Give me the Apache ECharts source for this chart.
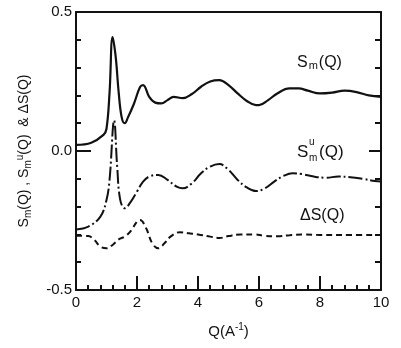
<!DOCTYPE html>
<html><head><meta charset="utf-8">
<script src="https://cdn.jsdelivr.net/npm/echarts@6/dist/echarts.min.js"></script>
<style>html,body{margin:0;padding:0;background:#fff}#c{width:401px;height:348px}</style>
</head><body><div id="c"></div>
<script>
const qSm = [0,0.5,0.9,1.0,1.1,1.2,1.3,1.4,1.5,1.6,1.7,1.9,2.1,2.2,2.4,2.6,2.8,3.0,3.2,3.5,3.8,4.1,4.4,4.7,5.0,5.3,5.6,5.9,6.0,6.3,6.6,7.0,7.3,7.6,8.0,8.4,8.8,9.2,9.6,10];
const sm  = [0.022,0.03,0.058,0.08,0.21,0.41,0.34,0.21,0.12,0.10,0.12,0.17,0.23,0.237,0.195,0.174,0.171,0.183,0.195,0.19,0.205,0.231,0.25,0.255,0.237,0.207,0.18,0.165,0.165,0.183,0.207,0.225,0.225,0.217,0.207,0.21,0.217,0.212,0.2,0.195];
const qSu = [0,0.4,0.8,1.0,1.1,1.25,1.35,1.45,1.6,1.8,2.0,2.2,2.4,2.7,3.0,3.3,3.5,3.8,4.1,4.4,4.7,5.0,5.3,5.6,5.9,6.2,6.5,6.8,7.1,7.4,7.8,8.2,8.6,9.0,9.4,9.8,10];
const su  = [-0.282,-0.272,-0.236,-0.176,-0.104,0.11,-0.056,-0.176,-0.206,-0.182,-0.146,-0.11,-0.092,-0.086,-0.104,-0.128,-0.134,-0.116,-0.08,-0.056,-0.047,-0.068,-0.104,-0.131,-0.144,-0.134,-0.11,-0.09,-0.08,-0.083,-0.092,-0.096,-0.092,-0.094,-0.1,-0.108,-0.11];
const qDs = [0,0.4,0.6,0.8,1.0,1.2,1.4,1.6,1.8,2.0,2.1,2.3,2.5,2.7,2.9,3.1,3.4,3.7,4.0,4.4,4.7,5.0,5.4,5.8,6.2,6.6,7.0,7.5,8.0,9.0,10];
const ds  = [-0.305,-0.306,-0.32,-0.344,-0.35,-0.338,-0.318,-0.308,-0.287,-0.254,-0.248,-0.278,-0.332,-0.35,-0.332,-0.308,-0.292,-0.296,-0.3,-0.308,-0.313,-0.306,-0.3,-0.3,-0.305,-0.307,-0.303,-0.3,-0.302,-0.302,-0.302];
const xTicks = [0,2,4,6,8,10];
const yTicks = [-0.5,0.0,0.5];

const zip = (a,b)=>a.map((v,i)=>[v,b[i]]);
const chart = echarts.init(document.getElementById('c'));
const F = 'Liberation Sans, Arial, sans-serif';
const lineC = '#111';
chart.setOption({
  animation:false,
  grid:{left:76,right:20,top:12,bottom:58},
  xAxis:[{
    type:'value',min:0,max:10,interval:2,
    axisLine:{onZero:false,lineStyle:{color:lineC,width:2}},
    axisTick:{inside:true,length:14,lineStyle:{color:lineC,width:2}},
    minorTick:{show:true,splitNumber:5,length:5,lineStyle:{color:lineC,width:2}},
    splitLine:{show:false},
    axisLabel:{color:'#111',fontSize:15,fontFamily:F,margin:5,formatter:v=>String(v)},
    name:'{a|Q(A}{sup|-1}{a|)}',nameLocation:'middle',nameGap:32,
    nameTextStyle:{rich:{a:{fontSize:15,fontFamily:F,color:'#111'},sup:{fontSize:10,fontFamily:F,color:'#111',padding:[0,0,9,0]}}}
  },{
    type:'value',min:0,max:10,position:'top',
    axisLine:{show:true,onZero:false,lineStyle:{color:lineC,width:2}},
    axisTick:{show:false},axisLabel:{show:false},splitLine:{show:false}
  }],
  yAxis:[{
    type:'value',min:-0.5,max:0.5,interval:0.5,
    axisLine:{onZero:false,lineStyle:{color:lineC,width:2}},
    axisTick:{inside:true,length:15,lineStyle:{color:lineC,width:2}},
    minorTick:{show:true,splitNumber:5,length:5,lineStyle:{color:lineC,width:2}},
    splitLine:{show:false},
    axisLabel:{color:'#111',fontSize:15,fontFamily:F,margin:4,formatter:v=>v.toFixed(1)},
    name:'{a|S}{sub|m}{a|(Q) , S}{sub|m}{sup|u}{a|(Q)  & ΔS(Q)}',nameLocation:'middle',nameGap:42,nameRotate:90,
    nameTextStyle:{rich:{a:{fontSize:14,fontFamily:F,color:'#111'},sub:{fontSize:10,fontFamily:F,color:'#111',padding:[7,0,0,0]},sup:{fontSize:10,fontFamily:F,color:'#111',padding:[0,0,9,0]}}}
  },{
    type:'value',min:-0.5,max:0.5,interval:0.5,position:'right',
    axisLine:{show:true,onZero:false,lineStyle:{color:lineC,width:2}},
    axisTick:{show:true,inside:true,length:12,lineStyle:{color:lineC,width:2}},
    minorTick:{show:true,splitNumber:5,length:6,lineStyle:{color:lineC,width:2}},
    axisLabel:{show:false},splitLine:{show:false}
  }],
  series:[
    {type:'line',data:zip(qSm,sm),smooth:0.4,showSymbol:false,lineStyle:{color:lineC,width:2.2}},
    {type:'line',data:zip(qSu,su),smooth:0.4,showSymbol:false,lineStyle:{color:lineC,width:2,type:[14,3,2,3]}},
    {type:'line',data:zip(qDs,ds),smooth:0.4,showSymbol:false,lineStyle:{color:lineC,width:2,type:[6,4]}}
  ],
  graphic:[
    {type:'text',left:297,top:55,style:{text:'{a|S}{sub|m}{a|(Q)}',rich:{a:{fontSize:16,fontFamily:F,fill:'#111'},sub:{fontSize:11,fontFamily:F,fill:'#111',padding:[6,1,0,1]}}}},
    {type:'text',left:297,top:144,style:{text:'S',fontSize:17,fontFamily:F,fill:'#111'}},
    {type:'text',left:309,top:137,style:{text:'u',fontSize:10,fontFamily:F,fill:'#111'}},
    {type:'text',left:309,top:153,style:{text:'m',fontSize:10,fontFamily:F,fill:'#111'}},
    {type:'text',left:319,top:144,style:{text:'(Q)',fontSize:17,fontFamily:F,fill:'#111'}},
    {type:'text',left:300,top:208,style:{text:'ΔS(Q)',fontSize:16,fontFamily:F,fill:'#111'}}
  ]
});
</script></body></html>
